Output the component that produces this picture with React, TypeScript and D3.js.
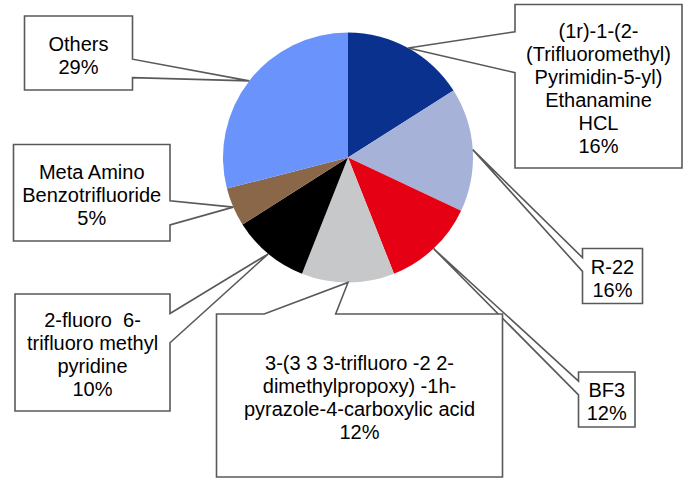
import React from "react";
import * as d3 from "d3";

// Share of each product, in the order the slices run clockwise from 12 o'clock
const categories = [
  "(1r)-1-(2-\n(Trifluoromethyl)\nPyrimidin-5-yl)\nEthanamine\nHCL",
  "R-22",
  "BF3",
  "3-(3 3 3-trifluoro -2 2-\ndimethylpropoxy) -1h-\npyrazole-4-carboxylic acid",
  "2-fluoro  6-\ntrifluoro methyl\npyridine",
  "Meta Amino\nBenzotrifluoride",
  "Others",
];
const values = [16, 16, 12, 12, 10, 5, 29];
const colors = ["#0B318F", "#A6B2D8", "#E60013", "#C7C8CA", "#000000", "#8A6748", "#6B93FC"];

// Callout boxes: rectangle and the side the pointer leaves from
const callouts = [
  { x: 515, y: 4.5, w: 167, h: 163.5, side: "left" },
  { x: 582.5, y: 248.5, w: 60, h: 55, side: "left" },
  { x: 578.5, y: 372, w: 56.5, h: 55, side: "left" },
  { x: 216.5, y: 314, w: 286, h: 163, side: "top" },
  { x: 15, y: 294, w: 155, h: 117, side: "right" },
  { x: 13.5, y: 144.5, w: 156.5, h: 96.5, side: "right" },
  { x: 24.5, y: 16, w: 108, h: 74, side: "right" },
];

const W = 688;
const H = 479;
const cx = 348;
const cy = 157.5;
const R = 125;
const LINE_H = 23;
const STROKE = "#595959";

function calloutPath(b: { x: number; y: number; w: number; h: number; side: string }, tx: number, ty: number) {
  const { x, y, w, h, side } = b;
  const r = x + w;
  const btm = y + h;
  if (side === "left" || side === "right") {
    const upper = ty < y + h / 2;
    const y1 = y + h * (upper ? 2 / 12 : 7 / 12);
    const y2 = y + h * (upper ? 5 / 12 : 10 / 12);
    if (side === "left") {
      return `M${x},${y}L${r},${y}L${r},${btm}L${x},${btm}L${x},${y2}L${tx},${ty}L${x},${y1}Z`;
    }
    return `M${x},${y}L${r},${y}L${r},${y1}L${tx},${ty}L${r},${y2}L${r},${btm}L${x},${btm}Z`;
  }
  const leftPart = tx < x + w / 2;
  const x1 = x + w * (leftPart ? 2 / 12 : 7 / 12);
  const x2 = x + w * (leftPart ? 5 / 12 : 10 / 12);
  if (side === "top") {
    return `M${x},${y}L${x1},${y}L${tx},${ty}L${x2},${y}L${r},${y}L${r},${btm}L${x},${btm}Z`;
  }
  return `M${x},${y}L${r},${y}L${r},${btm}L${x2},${btm}L${tx},${ty}L${x1},${btm}L${x},${btm}Z`;
}

export default function App() {
  const pie = d3
    .pie<number>()
    .sort(null)
    .startAngle(0)
    .endAngle(2 * Math.PI)
    .value((d) => d);
  const arcs = pie(values);
  const arc = d3.arc<d3.PieArcDatum<number>>().innerRadius(0).outerRadius(R);

  return (
    <svg
      width={W}
      height={H}
      style={{ position: "absolute", left: 0, top: 0, background: "#fff" }}
      fontFamily="'Liberation Sans', Arial, sans-serif"
    >
      <g transform={`translate(${cx},${cy})`}>
        {arcs.map((a, i) => (
          <path key={i} d={arc(a) || ""} fill={colors[i]} />
        ))}
      </g>
      {arcs.map((a, i) => {
        const mid = (a.startAngle + a.endAngle) / 2;
        const [px, py] = d3.pointRadial(mid, R);
        const tx = cx + px;
        const ty = cy + py;
        const b = callouts[i];
        const lines = [...categories[i].split("\n"), `${values[i]}%`];
        const midY = b.y + b.h / 2 + 2;
        const firstY = midY - ((lines.length - 1) * LINE_H) / 2;
        return (
          <g key={i}>
            <path
              d={calloutPath(b, tx, ty)}
              fill="#fff"
              stroke={STROKE}
              strokeWidth={1.6}
              strokeLinejoin="miter"
            />
            <text
              fontSize={20}
              fill="#000"
              textAnchor="middle"
              style={{ whiteSpace: "pre" }}
            >
              {lines.map((ln, j) => (
                <tspan key={j} x={b.x + b.w / 2} y={firstY + j * LINE_H} dominantBaseline="central">
                  {ln}
                </tspan>
              ))}
            </text>
          </g>
        );
      })}
    </svg>
  );
}
